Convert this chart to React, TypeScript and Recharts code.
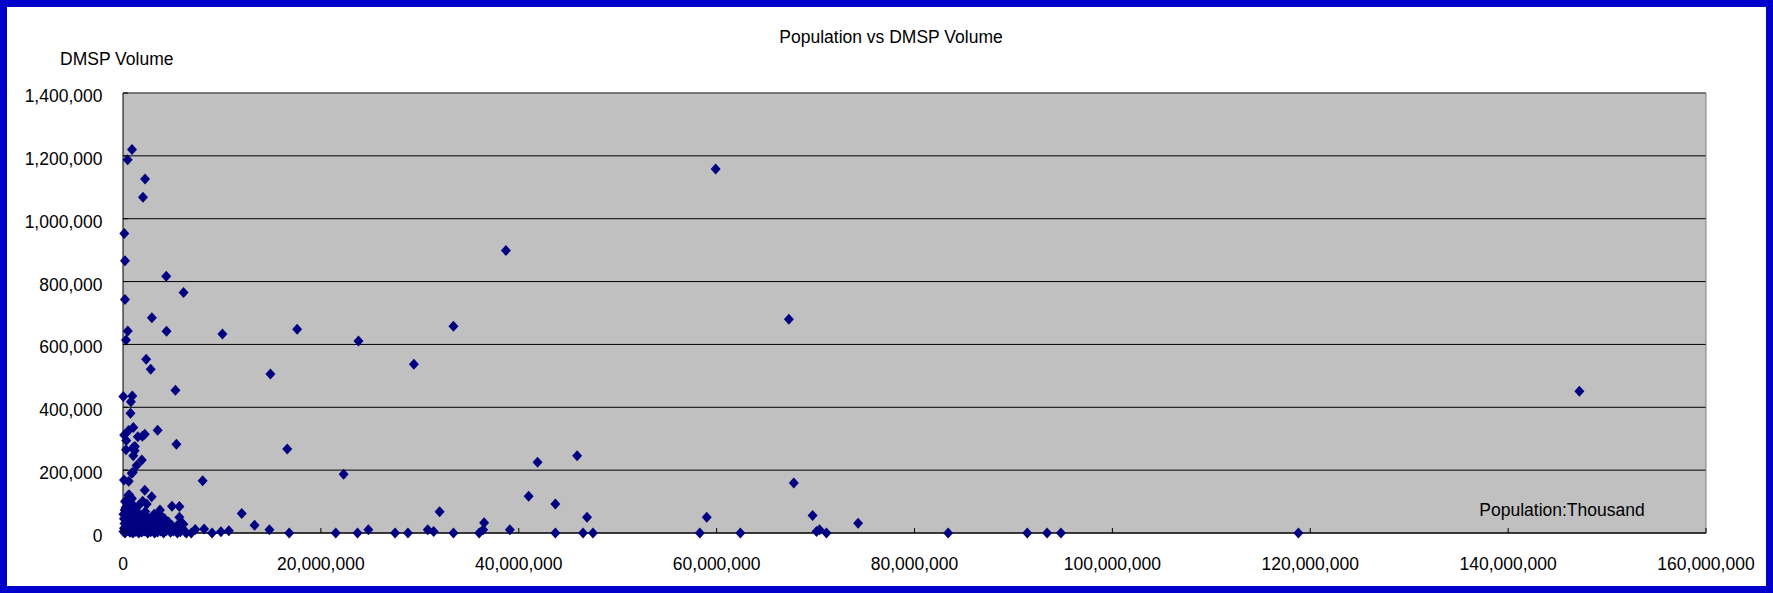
import React from "react";
import { ScatterChart, Scatter, XAxis, YAxis, CartesianGrid, ReferenceLine } from "recharts";

// Population (x) and DMSP volume (y)
const population = [
  910000, 470000, 2230000, 2020000, 130000, 200000, 200000, 4370000, 6120000, 2920000,
  480000, 300000, 4400000, 10050000, 17600000, 2340000, 2800000, 14900000, 5300000, 30000,
  940000, 800000, 760000, 23800000, 29400000, 33400000, 38700000, 59900000, 67300000, 147200000,
  1040000, 3500000, 560000, 120000, 1500000, 1950000, 2200000, 330000, 5400000, 1200000,
  16600000, 1040000, 300000, 1180000, 1040000, 1900000, 1380000, 22300000, 41900000, 45900000,
  1000000, 880000, 100000, 580000, 8050000, 640000, 540000, 2200000, 2900000, 1990000,
  880000, 2400000, 1040000, 3740000, 4950000, 5700000, 170000, 41000000, 43700000, 67800000,
  5700000, 6100000, 5900000,
  12000000, 13300000, 14800000, 16800000, 21500000, 7300000, 8200000, 9000000, 9900000, 10700000,
  6300000, 6900000, 23700000, 24800000, 27500000, 28800000, 30800000, 31400000, 32000000, 33400000,
  36000000, 36400000, 36500000, 39100000, 43700000, 46500000, 46900000, 47500000, 58300000, 59000000,
  62400000, 69700000, 70100000, 70400000, 71100000, 74300000, 83400000, 91400000, 93400000, 94800000,
  118800000,
  50000, 100000, 150000, 100000, 50000, 200000, 300000, 350000, 400000, 450000,
  500000, 550000, 600000, 650000, 700000, 800000, 850000, 900000, 950000, 1000000,
  1100000, 1150000, 1200000, 1250000, 1300000, 1400000, 1450000, 1500000, 1550000, 1600000,
  1700000, 1750000, 1800000, 1850000, 1900000, 2000000, 2050000, 2100000, 2150000, 2300000,
  2350000, 2400000, 2450000, 2500000, 2600000, 2700000, 2750000, 2800000, 2950000, 3000000,
  3050000, 3100000, 3200000, 3300000, 3400000, 3450000, 3500000, 3600000, 3700000, 3800000,
  3900000, 4000000, 4100000, 4200000, 4300000, 4400000, 4600000, 4700000, 4800000, 5000000,
  5100000, 5300000, 5500000, 5600000, 5800000, 6000000, 6400000, 250000, 750000, 1350000,
  2250000, 3150000, 3850000, 900000, 400000, 200000, 1600000,
];

const volume = [
  1220000, 1188000, 1126000, 1068000, 953000, 866000, 743000, 817000, 765000, 685000,
  643000, 614000, 642000, 633000, 648000, 553000, 521000, 506000, 454000, 434000,
  436000, 418000, 381000, 611000, 537000, 658000, 899000, 1158000, 680000, 451000,
  336000, 327000, 326000, 312000, 306000, 308000, 314000, 294000, 282000, 275000,
  267000, 272000, 265000, 262000, 246000, 232000, 215000, 187000, 225000, 246000,
  193000, 190000, 169000, 165000, 166000, 121000, 120000, 136000, 115000, 101000,
  94000, 92000, 84000, 73000, 85000, 84000, 73000, 117000, 92000, 159000,
  50000, 28000, 33000,
  62000, 25000, 10000, 0, 0, 11000, 13000, 0, 4000, 7000,
  3000, 0, 0, 10000, 0, 0, 10000, 5000, 68000, 0,
  0, 10000, 33000, 10000, 0, 0, 50000, 0, 0, 50000,
  0, 56000, 5000, 10000, 0, 31000, 0, 0, 0, 0,
  0,
  60000, 45000, 30000, 15000, 5000, 0, 52000, 38000, 22000, 8000,
  65000, 48000, 30000, 12000, 2000, 55000, 40000, 25000, 10000, 0,
  62000, 45000, 32000, 18000, 5000, 50000, 35000, 20000, 8000, 0,
  58000, 42000, 28000, 14000, 3000, 48000, 33000, 20000, 6000, 55000,
  40000, 25000, 12000, 0, 45000, 30000, 16000, 4000, 52000, 36000,
  22000, 9000, 0, 42000, 27000, 14000, 3000, 38000, 20000, 6000,
  30000, 12000, 0, 45000, 24000, 8000, 35000, 15000, 2000, 22000,
  6000, 10000, 0, 28000, 4000, 14000, 0, 80000, 75000, 70000,
  68000, 60000, 55000, 110000, 95000, 100000, 88000,
];

const xTicks = [0, 20000000, 40000000, 60000000, 80000000, 100000000, 120000000, 140000000, 160000000];
const yTicks = [0, 200000, 400000, 600000, 800000, 1000000, 1200000, 1400000];

const FONT = '"Liberation Sans", Arial, sans-serif';
const FS = 17.5;
const fmt = (v: number) => v.toLocaleString("en-US");

const points = population.map((x, i) => ({ x, y: volume[i] }));

function Diamond(props: any) {
  const { cx, cy } = props;
  if (cx == null || cy == null) return <g />;
  return (
    <polygon
      points={`${cx},${cy - 5.5} ${cx + 5},${cy} ${cx},${cy + 5.5} ${cx - 5},${cy}`}
      fill="#000080"
    />
  );
}

function XTick({ x, y, payload }: any) {
  return (
    <g>
      <line x1={x} y1={y} x2={x} y2={y - 5} stroke="#000" />
      <text x={x} y={y + 37} textAnchor="middle" fontSize={FS} fontFamily={FONT} fill="#000">
        {fmt(payload.value)}
      </text>
    </g>
  );
}

function YTick({ x, y, payload }: any) {
  return (
    <g>
      <line x1={x} y1={y} x2={x + 5} y2={y} stroke="#000" />
      <text x={x - 20.5} y={y + 9} textAnchor="end" fontSize={FS} fontFamily={FONT} fill="#000">
        {fmt(payload.value)}
      </text>
    </g>
  );
}

export default function App() {
  return (
    <div style={{ position: "relative", width: 1773, height: 593, background: "#fff" }}>
      <style>{`body{margin:0}`}</style>
      <ScatterChart width={1773} height={593} margin={{ top: 93, right: 67, bottom: 0, left: 0 }}>
        <CartesianGrid vertical={false} fill="#C0C0C0" stroke="#000" />
        <XAxis
          type="number"
          dataKey="x"
          domain={[0, 160000000]}
          ticks={xTicks}
          interval={0}
          height={60}
          tickSize={0}
          tickMargin={0}
          tickLine={false}
          axisLine={{ stroke: "#000" }}
          tick={<XTick />}
        />
        <YAxis
          type="number"
          dataKey="y"
          domain={[0, 1400000]}
          ticks={yTicks}
          interval={0}
          width={123}
          tickSize={0}
          tickMargin={0}
          tickLine={false}
          axisLine={{ stroke: "#000" }}
          tick={<YTick />}
        />
        <ReferenceLine y={1400000} stroke="#808080" />
        <ReferenceLine x={160000000} stroke="#808080" />
        <Scatter data={points} shape={<Diamond />} isAnimationActive={false} />
      </ScatterChart>
      <svg
        width={1773}
        height={593}
        style={{ position: "absolute", left: 0, top: 0, pointerEvents: "none" }}
      >
        <rect x={3.5} y={3.5} width={1766} height={586} fill="none" stroke="#0000CC" strokeWidth={7} />
        <text x={891} y={42.5} textAnchor="middle" fontSize={FS} fontFamily={FONT} fill="#000">
          Population vs DMSP Volume
        </text>
        <text x={60} y={64.5} fontSize={FS} fontFamily={FONT} fill="#000">
          DMSP Volume
        </text>
        <text x={1562} y={516} textAnchor="middle" fontSize={FS} fontFamily={FONT} fill="#000">
          Population:Thousand
        </text>
      </svg>
    </div>
  );
}
